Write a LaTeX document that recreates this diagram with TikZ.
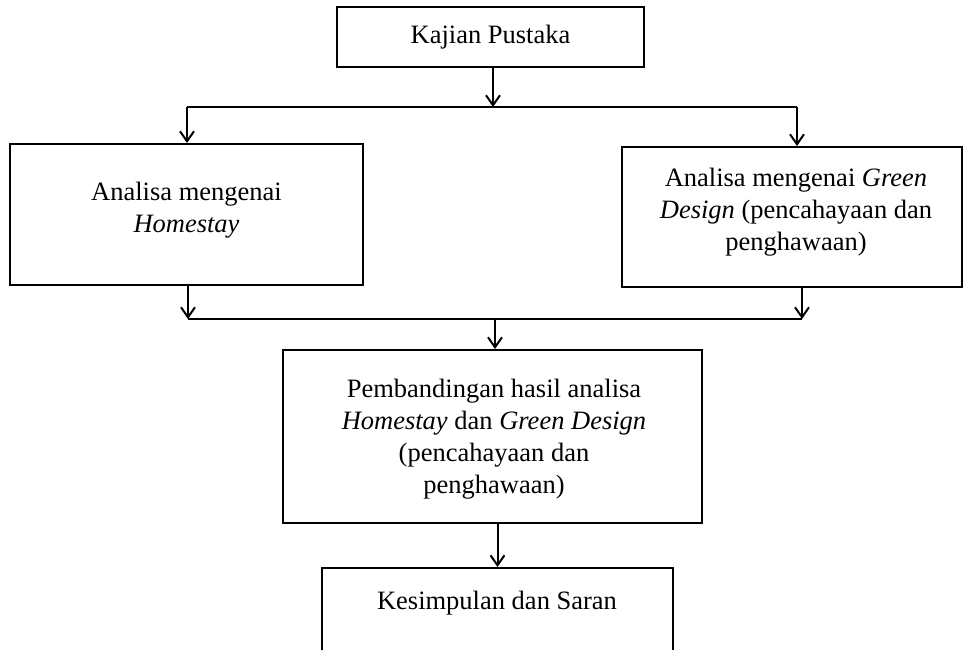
\documentclass[tikz,border=0pt]{standalone}
\usepackage{fontspec}
\setmainfont{Liberation Serif}
\usetikzlibrary{arrows.meta}
\begin{document}
\begin{tikzpicture}[x=1pt,y=-1pt,
  box/.style={draw, line width=2pt, rectangle, inner sep=0pt, align=center,
    font=\fontsize{26.5}{32}\selectfont},
  lbl/.style={inner sep=0pt, align=center, font=\fontsize{26.5}{32}\selectfont},
  conn/.style={line width=2pt},
  arr/.style={line width=2pt, -{Straight Barb[length=10pt,width=14pt,line width=2pt]}}]
\useasboundingbox (0,0) rectangle (969,649);
\clip (0,0) rectangle (969,649);
% boxes
\node[box, minimum width=307pt, minimum height=60pt] (kp) at (490.5,37) {Kajian Pustaka};
\node[box, minimum width=353pt, minimum height=141pt] (left) at (186.5,214.5) {};
\node[lbl] (lefttxt) at (186.5,210.5) {Analisa mengenai\\ \textit{Homestay}};
\node[box, minimum width=340pt, minimum height=140pt] (right) at (792,217) {};
\node[lbl] (righttxt) at (796,212) {Analisa mengenai \textit{Green}\\ \textit{Design} (pencahayaan dan\\ penghawaan)};
\node[box, minimum width=419pt, minimum height=173pt] (mid) at (492.5,436.5) {};
\node[lbl] (midtxt) at (494,439) {Pembandingan hasil analisa\\ \textit{Homestay} dan \textit{Green Design}\\ (pencahayaan dan\\ penghawaan)};
\node[box, minimum width=351pt, minimum height=160pt, anchor=north] (bot) at (497.5,567) {};
\node[lbl] (bottxt) at (497,603) {Kesimpulan dan Saran};
% junction coordinates
\coordinate (j1) at (493,107);
\coordinate (j1l) at (187,107);
\coordinate (j1r) at (797,107);
\coordinate (j2l) at (188,319);
\coordinate (j2r) at (802,319);
\coordinate (j2m) at (495,319);
% connectors
\draw[arr] (kp.south -| j1) -- (j1);
\draw[conn] (j1l) -- (j1r);
\draw[arr] (j1l) -- (j1l |- left.north);
\draw[arr] (j1r) -- (j1r |- right.north);
\draw[arr] (left.south -| j2l) -- (j2l);
\draw[arr] (right.south -| j2r) -- (j2r);
\draw[conn] (j2l) -- (j2r);
\draw[arr] (j2m) -- (j2m |- mid.north);
\draw[arr] (mid.south -| bot.north) -- (bot.north);
\end{tikzpicture}
\end{document}
